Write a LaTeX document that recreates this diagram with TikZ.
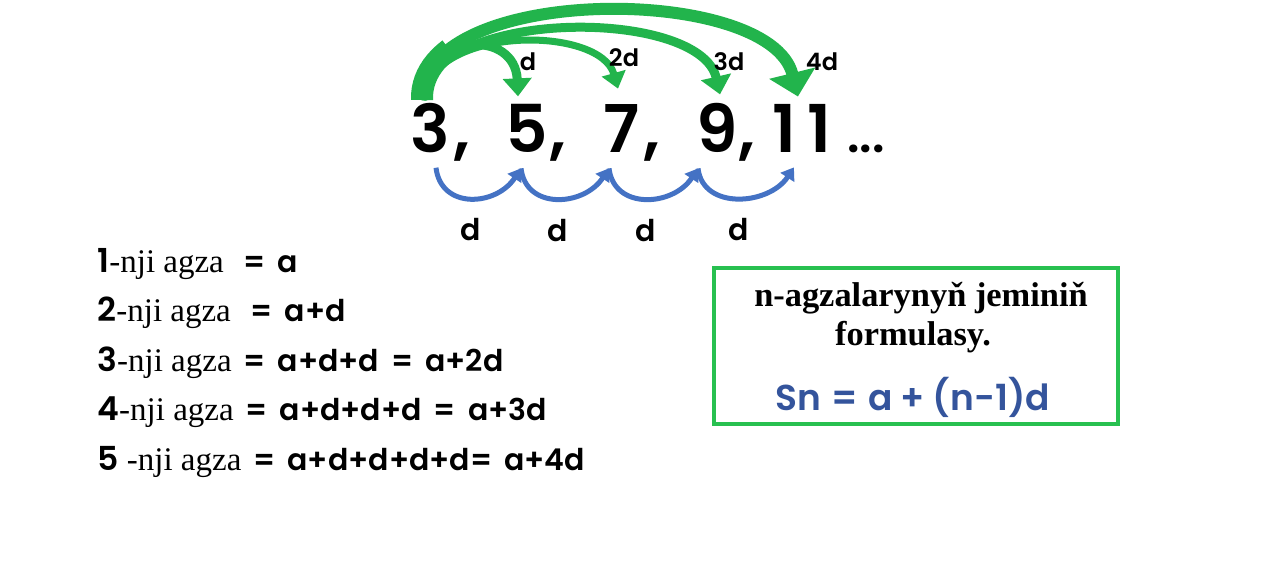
\documentclass[tikz,border=0pt]{standalone}
\usepackage{fontspec}
\setmainfont{Liberation Serif}
\newfontfamily\comic{Poppins SemiBold}
\usetikzlibrary{calc,arrows.meta}
\definecolor{arcgreen}{RGB}{34,180,76}
\definecolor{boxgreen}{RGB}{40,192,80}
\definecolor{arcblue}{RGB}{68,114,196}
\definecolor{formblue}{RGB}{52,84,156}

\begin{document}
\begin{tikzpicture}[x=0.5pt, y=-0.5pt,
  num/.style={font=\comic\fontsize{33}{36}\selectfont, inner sep=0pt, anchor=base},
  comma/.style={num, anchor=base west},
  glbl/.style={font=\comic\fontsize{12}{14}\selectfont, inner sep=0pt},
  dlbl/.style={font=\comic\fontsize{15}{17}\selectfont, inner sep=0pt, text=black},
  garrow/.style={arcgreen, line cap=butt},
  barrow/.style={arcblue, line width=2.5pt, -{Triangle[width=8pt,length=6pt]}},
  row/.style={anchor=base west, inner sep=0pt, font=\fontsize{16.5}{18}\selectfont}]
  \useasboundingbox (0,0) rectangle (1280,585);
  \fill[white] (0,0) rectangle (1280,585);

  % the sequence
  \node[num] (n3)  at (430,152) {3};
  \node[num] (n5)  at (527,152) {5};
  \node[num] (n7)  at (622,152) {7};
  \node[num] (n9)  at (717,152) {9};
  \node[comma] (c1) at ([xshift=1.5pt]n3.base east) {,};
  \node[comma] (c2) at (n5.base east) {,};
  \node[comma] (c3) at ([xshift=1.5pt]n7.base east) {,};
  \node[comma] (c4) at (n9.base east) {,};
  \node[num, anchor=base west] (n11) at ([xshift=8pt]c4.base east) {1\kern6pt1};
  \node[num, anchor=base west, font=\comic\fontsize{24}{26}\selectfont] (dots) at (847,152) {...};

  % green jumps from the first term
  \coordinate (g0) at (422,100);
  \draw[garrow, line width=11pt, dash pattern=on 30pt off 1000pt]
    (g0) .. controls (418,-17) and (770,-17) .. ($(n11.north)+(-4,-7)$);
  \draw[garrow, line width=6pt, -{Triangle[width=23pt,length=12pt]}]
    (g0) .. controls (418,-17) and (770,-17) .. ($(n11.north)+(-4,-7)$);
  \draw[garrow, line width=4.5pt, -{Triangle[width=15pt,length=9pt]}]
    (g0) .. controls (430,7) and (700,7) .. ($(n9.north)+(3,-8)$);
  \draw[garrow, line width=3.5pt, -{Triangle[width=12pt,length=8pt]}]
    (g0) .. controls (430,25) and (600,25) .. ($(n7.north)+(-4,-15)$);
  \draw[garrow, line width=4.5pt, -{Triangle[width=14pt,length=9pt]}]
    (g0) .. controls (428,30) and (515,30) .. ($(n5.north)+(-9,-7)$);
  \node[glbl] (gd1) at (528,62) {d};
  \node[glbl] (gd2) at (624,58) {2d};
  \node[glbl] (gd3) at (729,62) {3d};
  \node[glbl] (gd4) at (822,62) {4d};

  % blue steps between neighbours
  \draw[barrow] ($(n3.south)+(6,15)$) .. controls +(5,42) and +(-25,38) .. ($(n5.south)+(-6,16)$)
    node[dlbl, midway, below=9pt] (bd1) {d};
  \draw[barrow] ($(n5.south)+(-6,16)$) .. controls +(5,42) and +(-25,38) .. ($(n7.south)+(-13,16)$)
    node[dlbl, midway, below=9pt] (bd2) {d};
  \draw[barrow] ($(n7.south)+(-13,16)$) .. controls +(5,42) and +(-25,38) .. ($(n9.south)+(-19,16)$)
    node[dlbl, midway, below=9pt] (bd3) {d};
  \draw[barrow] ($(n9.south)+(-19,16)$) .. controls +(5,42) and +(-25,38) .. ($(n11.south)+(-8,15)$)
    node[dlbl, midway, below=9pt] (bd4) {d};

  % terms
  \node[row] (r1) at (97,272) {{\comic 1}-nji agza\hspace{10pt}{\comic\fontsize{15}{16}\selectfont =\hspace{6pt}a}};
  \node[row] (r2) at (97,321) {{\comic 2}-nji agza\hspace{10pt}{\comic\fontsize{15}{16}\selectfont =\hspace{6pt}a+d}};
  \node[row] (r3) at (97,371) {{\comic 3}-nji agza\hspace{6pt}{\comic\fontsize{15}{16}\selectfont =\hspace{6pt}a+d+d\hspace{6pt}=\hspace{6pt}a+2d}};
  \node[row] (r4) at (97,420) {{\comic 4}-nji agza\hspace{6pt}{\comic\fontsize{15}{16}\selectfont =\hspace{6pt}a+d+d+d\hspace{6pt}=\hspace{6pt}a+3d}};
  \node[row] (r5) at (97,470) {{\comic 5} -nji agza\hspace{6pt}{\comic\fontsize{15}{16}\selectfont =\hspace{6pt}a+d+d+d+d=\hspace{6pt}a+4d}};

  % formula box
  \node[draw=boxgreen, line width=1.6pt, minimum width=202pt, minimum height=78pt] (box) at (916,346) {};
  \node[anchor=base, inner sep=0pt, font=\bfseries\fontsize{17.2}{20}\selectfont] (t1) at (921,306) {n-agzalarynyň jeminiň};
  \node[anchor=base, inner sep=0pt, font=\bfseries\fontsize{17.2}{20}\selectfont] (t2) at (913,345) {formulasy.};
  \node[anchor=base, inner sep=0pt, text=formblue, font=\comic\fontsize{18}{20}\selectfont] (f) at (913,410)
    {Sn\hspace{5pt}=\hspace{5pt}a\hspace{4pt}+\hspace{4pt}(n-1)d};
\end{tikzpicture}
\end{document}
